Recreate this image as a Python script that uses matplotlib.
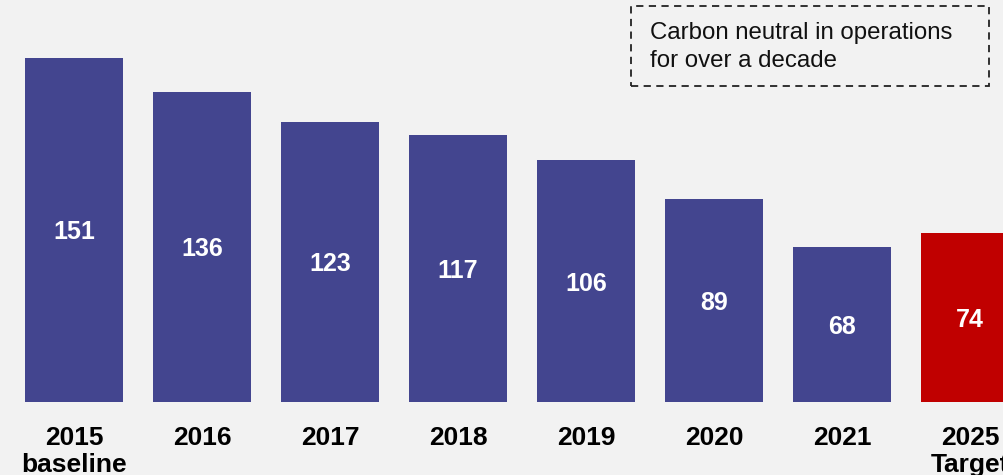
import matplotlib.pyplot as plt
from matplotlib.patches import Rectangle

# データ
years = ["2015\nbaseline", "2016", "2017", "2018", "2019", "2020", "2021", "2025\nTarget"]
emissions = [151, 136, 123, 117, 106, 89, 68, 74]
bar_colors = ["#43458f"] * 7 + ["#c00000"]

plt.rcParams['font.family'] = ['Liberation Sans', 'DejaVu Sans']

fig = plt.figure(figsize=(10.04, 4.75), dpi=100)
fig.patch.set_facecolor("#f2f2f2")

# 軸: 左端から右端まで、下は x ラベル用に空ける
ax = fig.add_axes([0, 73 / 475, 1, 402 / 475])
ax.set_facecolor("#f2f2f2")

x = list(range(len(years)))
ax.bar(x, emissions, width=0.766, color=bar_colors, linewidth=0)

ax.set_xlim(-74 / 128, (1004 - 74) / 128)
ax.set_ylim(0, 402 / 2.28)

for xi, v in zip(x, emissions):
    ax.text(xi, v / 2, str(v), ha="center", va="center_baseline", color="white",
            fontsize=18, fontweight="bold")

ax.set_xticks(x)
ax.set_xticklabels(years, fontsize=19, fontweight="bold", linespacing=1.2)
ax.tick_params(axis="x", length=0, pad=17)
ax.set_yticks([])
for s in ax.spines.values():
    s.set_visible(False)

# 単位ラベル (上が切れている)
fig.text(2 / 1004, 1 + 5 / 475, "(t CO$_2$e '000s)", fontsize=19, fontweight="bold",
         ha="left", va="baseline")

# 点線の枠
box = Rectangle((631 / 1004, 1 - 86 / 475), (989 - 631) / 1004, 80 / 475,
                transform=fig.transFigure, fill=False, edgecolor="#222222",
                linestyle=(0, (4, 3)), linewidth=1.3)
fig.patches.append(box)
fig.text(650 / 1004, 1 - 47 / 475, "Carbon neutral in operations\nfor over a decade",
         fontsize=17.3, ha="left", va="center", linespacing=1.34, color="#111111")

fig.savefig("out.png", dpi=100, facecolor=fig.get_facecolor())
